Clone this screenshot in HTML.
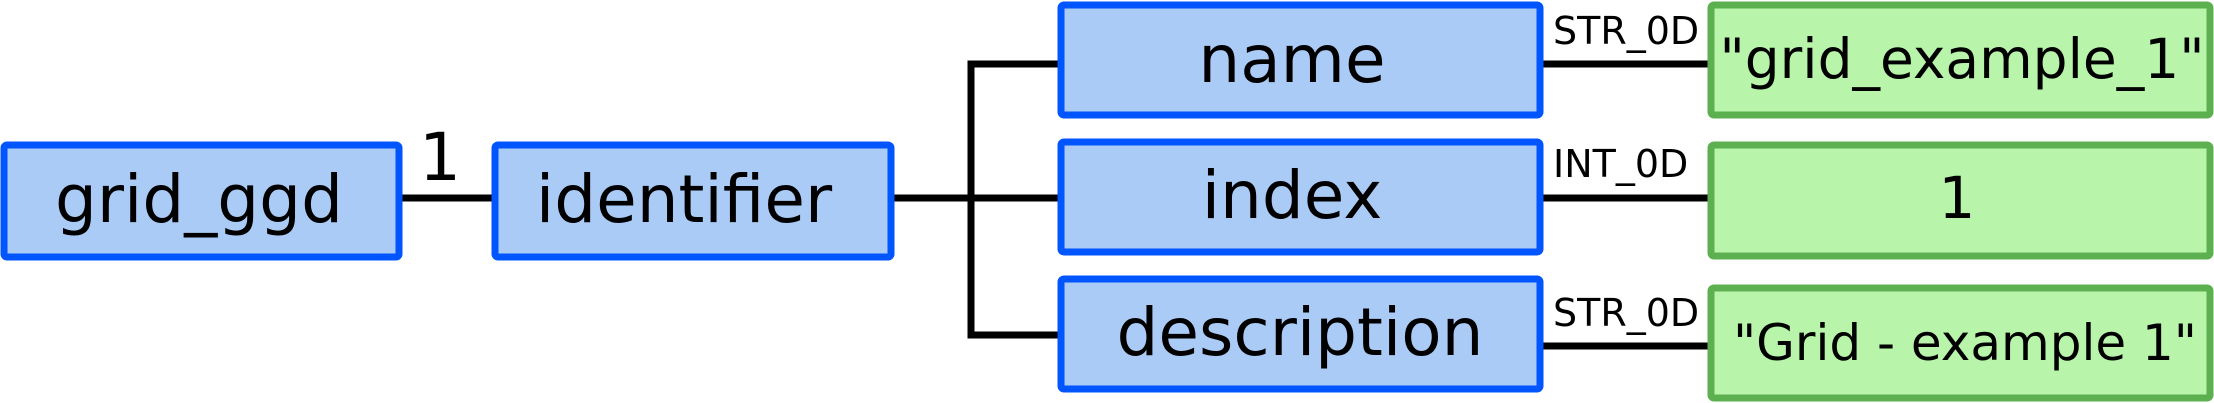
<!DOCTYPE html>
<html><head><meta charset="utf-8"><style>
html,body{margin:0;padding:0;background:#fff;}
svg{display:block;}
text{font-family:"DejaVu Sans","Liberation Sans",sans-serif;fill:#000;}
</style></head><body>
<svg width="2214" height="403" viewBox="0 0 2214 403" xmlns="http://www.w3.org/2000/svg">
<g stroke="#000" stroke-width="7" fill="none">
<line x1="400" y1="198" x2="494" y2="198"/>
<line x1="891" y1="198" x2="1060" y2="198"/>
<polyline points="1060,64 971,64 971,335 1060,335"/>
<line x1="1540" y1="64" x2="1710" y2="64"/>
<line x1="1540" y1="198" x2="1710" y2="198"/>
<line x1="1540" y1="346" x2="1710" y2="346"/>
</g>
<g fill="#aacbf5" stroke="#0055ff" stroke-width="7">
<rect x="4" y="145" width="395" height="112" rx="3"/>
<rect x="495" y="145" width="396" height="112" rx="3"/>
<rect x="1061" y="5" width="479" height="110" rx="3"/>
<rect x="1061" y="142" width="479" height="110" rx="3"/>
<rect x="1061" y="279" width="479" height="110" rx="3"/>
</g>
<g fill="#b8f4aa" stroke="#5cb050" stroke-width="7">
<rect x="1711" y="5" width="499" height="110" rx="3"/>
<rect x="1711" y="145" width="499" height="111" rx="3"/>
<rect x="1711" y="288" width="499" height="110" rx="3"/>
</g>
<g font-size="66" text-anchor="middle">
<text x="199" y="222">grid_ggd</text>
<text x="684" y="222">identifier</text>
<text x="1292" y="82">name</text>
<text x="1292" y="218">index</text>
<text x="1300" y="355">description</text>
<text x="440" y="180">1</text>
</g>
<g text-anchor="middle">
<text x="1962" y="78" font-size="55">"grid_example_1"</text>
<text x="1957" y="218" font-size="58">1</text>
<text x="1965" y="360" font-size="50">"Grid - example 1"</text>
</g>
<g font-size="38">
<text x="1553" y="44">STR_0D</text>
<text x="1553" y="177">INT_0D</text>
<text x="1553" y="326">STR_0D</text>
</g>
</svg>
</body></html>
